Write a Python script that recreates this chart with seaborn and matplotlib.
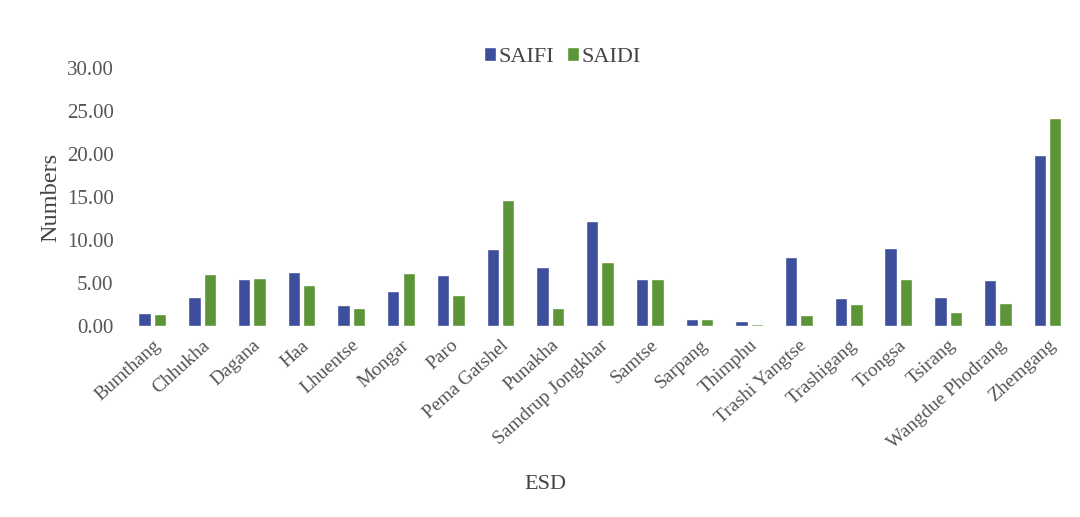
import matplotlib
matplotlib.use("Agg")
import matplotlib.pyplot as plt
import seaborn as sns
import pandas as pd

districts = ["Bumthang", "Chhukha", "Dagana", "Haa", "Lhuentse", "Mongar", "Paro",
             "Pema Gatshel", "Punakha", "Samdrup Jongkhar", "Samtse", "Sarpang",
             "Thimphu", "Trashi Yangtse", "Trashigang", "Trongsa", "Tsirang",
             "Wangdue Phodrang", "Zhemgang"]
saifi = [1.5, 3.4, 5.5, 6.3, 2.4, 4.1, 5.9, 8.9, 6.8, 12.2, 5.4, 0.8, 0.6,
         8.0, 3.2, 9.1, 3.3, 5.3, 19.9]
saidi = [1.4, 6.0, 5.6, 4.7, 2.1, 6.1, 3.6, 14.6, 2.1, 7.4, 5.4, 0.8, 0.15,
         1.2, 2.5, 5.4, 1.6, 2.7, 24.2]
yticks = [0, 5, 10, 15, 20, 25, 30]

df = pd.DataFrame({"ESD": districts * 2,
                   "value": saifi + saidi,
                   "index": ["SAIFI"] * len(districts) + ["SAIDI"] * len(districts)})

sns.set_theme(style="white")
plt.rcParams["font.family"] = ["Liberation Serif", "DejaVu Serif"]

fig = plt.figure(figsize=(10.8, 5.17), dpi=100)
ax = fig.add_axes([0.118, 0.37, 0.875, 0.498])

palette = {"SAIFI": "#3d4f9c", "SAIDI": "#5c9538"}
sns.barplot(data=df, x="ESD", y="value", hue="index", palette=palette,
            width=0.62, gap=0.2, ax=ax, saturation=1)

ax.set_ylim(0, 30)
ax.set_xlim(-0.5, len(districts) - 0.5)
ax.set_yticks(yticks)
ax.set_yticklabels([f"{t:.2f}" for t in yticks], fontsize=15, color="#555555")
ax.set_xticks(range(len(districts)))
ax.set_xticklabels(districts, rotation=42, ha="right", rotation_mode="anchor",
                   fontsize=14, color="#555555")
ax.tick_params(axis="y", length=0, pad=10)
ax.tick_params(axis="x", length=0, pad=8)
for s in ax.spines.values():
    s.set_visible(False)

ax.set_ylabel("Numbers", fontsize=17.5, color="#444444", labelpad=4)
ax.set_xlabel("")
fig.text(0.505, 0.062, "ESD", ha="center", va="center", fontsize=16, color="#444444")

leg = ax.legend(loc="center", bbox_to_anchor=(0.46, 1.043), ncol=2,
                frameon=False, fontsize=16, handlelength=0.55, handleheight=0.55,
                handletextpad=0.1, columnspacing=0.6)
for t in leg.get_texts():
    t.set_color("#444444")

fig.savefig("out.png", dpi=100, facecolor="white")
